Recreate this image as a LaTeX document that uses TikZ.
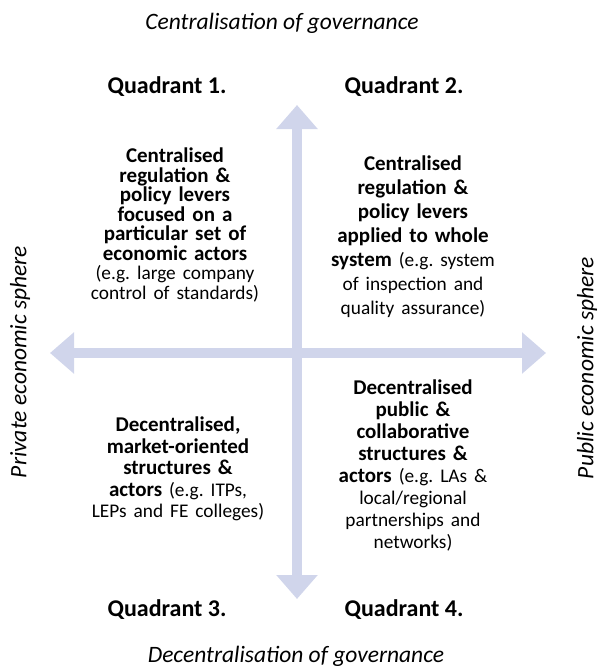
\documentclass[tikz,border=0pt]{standalone}
\usepackage{fontspec}
\setmainfont{Carlito}
\newfontfamily\rgfont{Carlito}[Scale=0.92]
\newcommand\rg{\rgfont\mdseries}
\usetikzlibrary{arrows.meta}
\definecolor{axisblue}{RGB}{208,213,235}
\frenchspacing

\begin{document}
\begin{tikzpicture}[x=1pt,y=-1pt,
  axis/.style={draw=axisblue,line width=10pt,
    {Triangle[length=24pt,width=40pt]}-{Triangle[length=24pt,width=40pt]}},
  quad/.style={font=\fontsize{24}{28}\selectfont\bfseries},
  side/.style={font=\fontsize{23.5}{27}\selectfont\itshape},
  blurb/.style={text width=220pt,align=center,inner sep=0pt,
    font=\fontsize{21}{#1}\selectfont\bfseries}]
\useasboundingbox (0,0) rectangle (598,667);

% axes
\coordinate (north) at (297,105);
\coordinate (south) at (297,599);
\coordinate (west) at (50,353);
\coordinate (east) at (546,353);
\draw[axis] (south) -- (north);
\draw[axis] (west) -- (east);

% axis labels
\node[side] (central) at (282,23) {Centralisation of governance};
\node[side] (decentral) at (296,656) {Decentralisation of governance};
\node[side,rotate=90] (private) at (20,362) {Private economic sphere};
\node[side,rotate=90] (public) at (587,368) {Public economic sphere};

% quadrant titles
\node[quad] (q1) at (167,87) {Quadrant 1.};
\node[quad] (q2) at (404,87) {Quadrant 2.};
\node[quad] (q3) at (167,610) {Quadrant 3.};
\node[quad] (q4) at (404,610) {Quadrant 4.};

% quadrant texts
\node[blurb=19.5] (c1) at (175,225) {Centralised\\ regulation \&\\ policy levers\\
  focused on a\\ particular set of\\ economic actors\\
  \rg (e.g. large company\\ control of standards)};
\node[blurb=24] (c2) at (413,237) {Centralised\\ regulation \&\\ policy levers\\
  applied to whole\\ system \rg (e.g. system\\ of inspection and\\
  quality assurance)};
\node[blurb=21.5] (c3) at (178,469) {Decentralised,\\ market-oriented\\
  structures \&\\ actors \rg (e.g. ITPs,\\ LEPs and FE colleges)};
\node[blurb=22] (c4) at (413,465) {Decentralised\\ public \&\\ collaborative\\
  structures \&\\ actors \rg (e.g. LAs \&\\ local/regional\\
  partnerships and\\ networks)};
\end{tikzpicture}
\end{document}
